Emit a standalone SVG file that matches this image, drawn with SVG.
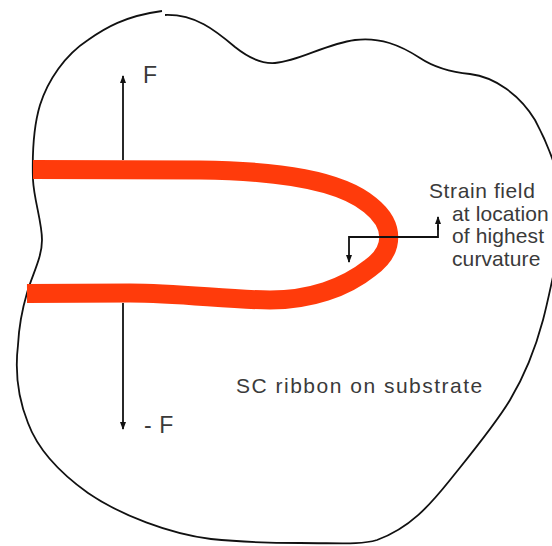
<svg xmlns="http://www.w3.org/2000/svg" width="552" height="546" viewBox="0 0 552 546">
  <defs>
    <marker id="ah" markerUnits="userSpaceOnUse" markerWidth="8" markerHeight="10" refX="7" refY="3" orient="auto">
      <path d="M0,0 L8,3 L0,6 Z" fill="#111"/>
    </marker>
    <style>
      .outline{fill:none;stroke:#111;stroke-width:1.8}
      .ribbon{fill:none;stroke:#ff3b0b;stroke-width:19;stroke-linejoin:round}
      .conn{fill:none;stroke:#111;stroke-width:1.8}
      .lbl{font-family:"Liberation Sans",Arial,sans-serif;font-size:21px;fill:#3a3a3a;letter-spacing:0.6px}
      .tight{letter-spacing:0.1px}
    </style>
  </defs>
  <rect width="552" height="546" fill="#fff"/>
  <g id="substrate">
    <path class="outline" d="M165,15 C195,14 215,30 235,47 C250,59 262,64 275,63 C300,61 325,44 355,40 C380,37 400,45 420,58 C435,68 450,72 470,74 C495,77 520,95 535,120 C543,135 550,150 556,170 L560,170 L560,272 L554,272 C550,290 547,305 543,320 C535,350 525,375 510,400 C495,425 470,455 450,480 C430,505 410,528 377,540 C360,545 340,543 300,543 C270,543 240,542 211,539 C170,534 120,515 88,493 C60,473 38,450 28,423 C18,398 15,370 18,345 C19,325 22,310 27,293 C32,275 42,258 42,240 C42,222 34,200 33,180 C32,150 34,125 40,105 C48,80 65,55 88,40 C105,28 125,16 162,11"/>
  </g>
  <g id="ribbon">
    <path class="ribbon" d="M33,169.5 L200,170 C280,171 340,180 370,205 C395,225 395,250 370,268 C345,288 310,300 270,300 C230,300 180,293 130,293 L27,293.5"/>
  </g>
  <g id="connectors">
    <line class="conn" x1="123" y1="160" x2="123" y2="76" marker-end="url(#ah)"/>
    <line class="conn" x1="123" y1="303" x2="123" y2="429" marker-end="url(#ah)"/>
    <polyline class="conn" points="438,225 438,237 349,237 349,262" marker-end="url(#ah)"/>
    <line class="conn" x1="438" y1="230" x2="438" y2="217" marker-end="url(#ah)"/>
  </g>
  <g id="labels">
    <text class="lbl" x="143" y="83" style="font-size:23px">F</text>
    <text class="lbl" x="144" y="433" style="font-size:23px">- F</text>
    <text class="lbl" x="429" y="198">Strain field</text>
    <text class="lbl tight" x="452" y="221">at location</text>
    <text class="lbl tight" x="452" y="243">of highest</text>
    <text class="lbl tight" x="452" y="266">curvature</text>
    <text class="lbl" x="236" y="393" style="letter-spacing:1.5px">SC ribbon on substrate</text>
  </g>
</svg>
